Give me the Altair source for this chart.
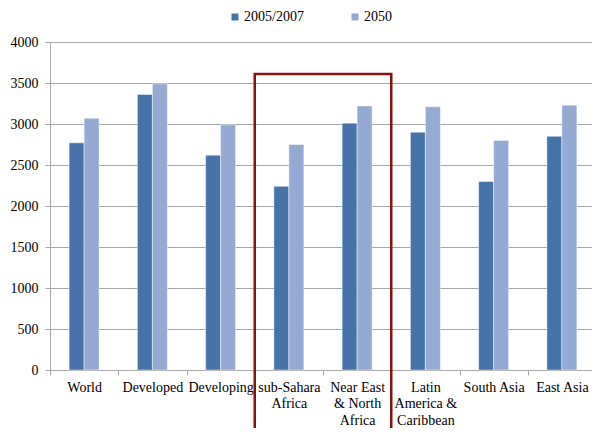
import altair as alt
import pandas as pd

# ---- data ----
categories = ["World", "Developed", "Developing", "sub-Sahara|Africa",
              "Near East|& North|Africa", "Latin|America &|Caribbean",
              "South Asia", "East Asia"]
series = ["2005/2007", "2050"]
values_2005_2007 = [2770, 3360, 2620, 2240, 3010, 2900, 2300, 2850]
values_2050 = [3070, 3490, 2990, 2750, 3220, 3210, 2800, 3230]
colors = ["#4674A8", "#95AAD2"]
y_ticks = [0, 500, 1000, 1500, 2000, 2500, 3000, 3500, 4000]

# highlight box: from band index 3 to band index 5, top at value ~3610
box_start = [3]
box_end = [5]
box_top = [3610]
box_bottom = [-1500]

df_a = pd.DataFrame({"region": categories, "series": series[0], "value": values_2005_2007})
df_b = pd.DataFrame({"region": categories, "series": series[1], "value": values_2050})

box_df = pd.DataFrame({"start": box_start, "end": box_end,
                       "top": box_top, "bottom": box_bottom})

FONT = "Liberation Serif"
PLOT_W = 542
BAND_RANGE = 546
PLOT_H = 328
BAR_W = 15

y_scale = alt.Scale(domain=[0, 4000], nice=False, zero=True)
x_scale = alt.Scale(domain=categories, range=[0, BAND_RANGE], paddingInner=0, paddingOuter=0)
color_scale = alt.Scale(domain=series, range=colors)

x_axis = alt.Axis(title=None, labelExpr="split(datum.label, '|')",
                  labelAngle=0, tickBand="extent", labelOverlap=False,
                  labelFont=FONT, labelFontSize=14, labelColor="#000000",
                  labelPadding=5, labelLineHeight=16.5, tickSize=5,
                  domainColor="#A8A8A8", tickColor="#A8A8A8", grid=False)
y_axis = alt.Axis(title=None, values=y_ticks, format="d", labelFont=FONT, labelFontSize=14,
                  labelColor="#000000", labelPadding=7, tickSize=5,
                  domainColor="#A8A8A8", tickColor="#A8A8A8",
                  gridColor="#A8A8A8", grid=True)
legend = alt.Legend(title=None, orient="none", legendX=178, legendY=-32,
                    direction="horizontal", symbolType="square",
                    symbolSize=49, symbolStrokeWidth=0,
                    labelFont=FONT, labelFontSize=14,
                    labelColor="#000000", labelOffset=2, columnPadding=44)


def bar_layer(data, offset):
    return alt.Chart(data).mark_bar(
        width=BAR_W, xOffset=offset, stroke="white", strokeOpacity=0.45, strokeWidth=1
    ).encode(
        x=alt.X("region:N", sort=categories, scale=x_scale, axis=x_axis),
        y=alt.Y("value:Q", scale=y_scale, axis=y_axis),
        color=alt.Color("series:N", sort=series, scale=color_scale, legend=legend),
    )


bars = alt.layer(bar_layer(df_a, -BAR_W / 2), bar_layer(df_b, BAR_W / 2))

box = alt.Chart(box_df).mark_rect(fillOpacity=0, stroke="#8B1111", strokeWidth=2.5).encode(
    x=alt.X("start:Q", scale=alt.Scale(domain=[0, len(categories)], range=[0, BAND_RANGE]),
            axis=None),
    x2="end:Q",
    y=alt.Y("top:Q", scale=y_scale, axis=y_axis),
    y2="bottom:Q",
)

chart = alt.layer(bars, box).resolve_scale(x="independent").properties(
    width=PLOT_W, height=PLOT_H,
    autosize=alt.AutoSizeParams(type="none"),
    padding={"left": 42, "top": 34, "right": 0, "bottom": 58},
).configure_view(stroke=None).configure(background="white")

chart.save("out.html", embed_options={"renderer": "svg", "actions": False})
